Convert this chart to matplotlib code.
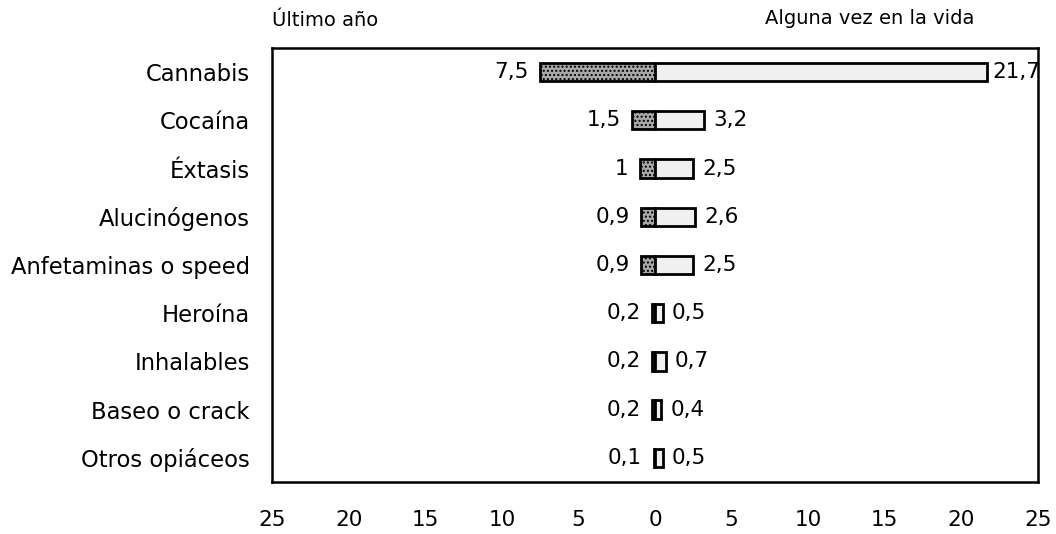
import matplotlib
matplotlib.use("Agg")
import matplotlib.pyplot as plt
import numpy as np

# ---------------------------------------------------------------------------
# Datos
# ---------------------------------------------------------------------------
categorias = ["Cannabis", "Cocaína", "Éxtasis", "Alucinógenos",
              "Anfetaminas o speed", "Heroína", "Inhalables",
              "Baseo o crack", "Otros opiáceos"]
ultimo_anio = [7.5, 1.5, 1.0, 0.9, 0.9, 0.2, 0.2, 0.2, 0.1]
alguna_vez = [21.7, 3.2, 2.5, 2.6, 2.5, 0.5, 0.7, 0.4, 0.5]
etiq_ultimo = ["7,5", "1,5", "1", "0,9", "0,9", "0,2", "0,2", "0,2", "0,1"]
etiq_vida = ["21,7", "3,2", "2,5", "2,6", "2,5", "0,5", "0,7", "0,4", "0,5"]
ticks = [-25, -20, -15, -10, -5, 0, 5, 10, 15, 20, 25]

plt.rcParams["font.family"] = ["DejaVu Sans"]
FS = 15.5

fig = plt.figure(figsize=(10.56, 5.34), dpi=100)
ax = fig.add_axes([0.2576, 0.0974, 0.7254, 0.8127])

y = np.arange(len(categorias))
alto = 0.38

ax.barh(y, [-v for v in ultimo_anio], height=alto, color="#a9a9a9",
        edgecolor="black", linewidth=2.0, hatch="....")
ax.barh(y, alguna_vez, height=alto, color="#f0f0f0",
        edgecolor="black", linewidth=2.0)

for yi, v, t in zip(y, ultimo_anio, etiq_ultimo):
    ax.text(-v - 0.75, yi, t, ha="right", va="center", fontsize=FS)
for yi, v, t in zip(y, alguna_vez, etiq_vida):
    ax.text(v + 0.6 if v < 20 else v + 0.35, yi, t, ha="left",
            va="center", fontsize=FS)

ax.set_xlim(-24.7, 24.9)
ax.set_ylim(len(categorias) - 0.5, -0.5)
ax.set_yticks(y)
ax.set_yticklabels(categorias, fontsize=16.3)
ax.set_xticks(ticks)
ax.set_xticklabels([str(abs(t)) for t in ticks], fontsize=FS)
ax.tick_params(axis="both", length=0)
ax.tick_params(axis="x", pad=20)
ax.tick_params(axis="y", pad=16)
for s in ax.spines.values():
    s.set_linewidth(1.8)

fig.text(272 / 1056, 1 - 20 / 534, "Último año", ha="left", va="center",
         fontsize=14)
fig.text(870 / 1056, 1 - 18 / 534, "Alguna vez en la vida", ha="center",
         va="center", fontsize=14)

fig.savefig("out.png", dpi=100)
plt.close(fig)
